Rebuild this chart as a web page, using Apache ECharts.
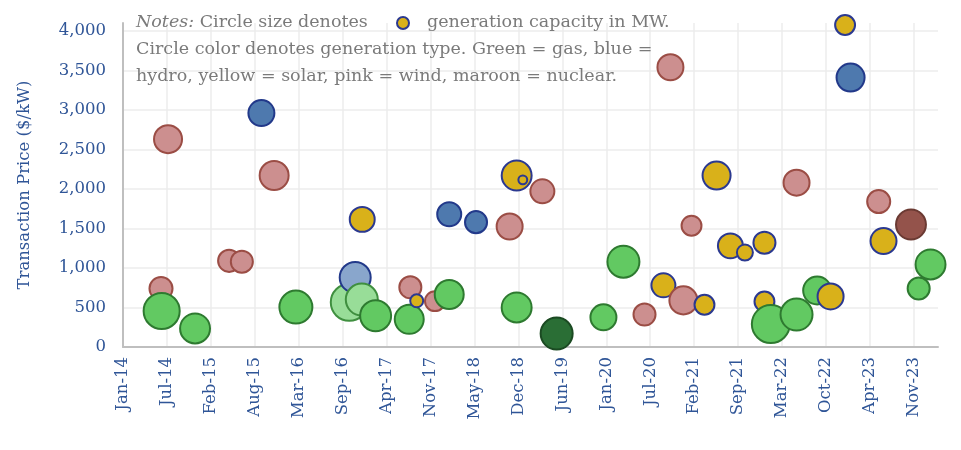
<!DOCTYPE html>
<html><head><meta charset="utf-8">
<script src="https://cdn.jsdelivr.net/npm/echarts@6/dist/echarts.min.js"></script>
<style>html,body{margin:0;padding:0;background:#fff}#c{width:961px;height:450px}</style>
</head><body><div id="c"></div>
<script>
// Transaction dates
const dates = ['2014-06-23','2014-06-26','2014-07-25','2014-11-25','2015-04-29','2015-06-26','2015-09-23','2015-11-20','2016-02-27','2016-10-27','2016-11-23','2016-12-23','2016-12-25','2017-02-24','2017-07-27','2017-08-01','2017-08-30','2017-11-21','2018-01-25','2018-01-25','2018-05-27','2018-10-27','2018-11-28','2018-11-28','2018-12-26','2019-03-25','2019-05-29','2019-12-28','2020-03-28','2020-07-02','2020-09-26','2020-10-28','2020-12-26','2021-02-01','2021-04-01','2021-05-26','2021-07-28','2021-10-02','2021-12-30','2021-12-30','2022-01-28','2022-05-25','2022-05-25','2022-08-27','2022-10-27','2023-01-01','2023-01-26','2023-06-03','2023-06-25','2023-10-28','2023-12-02','2024-01-25'];
// Transaction price ($/kW)
const prices = [740,455,2630,235,1090,1080,2960,2170,505,565,880,600,1615,395,350,755,585,580,1680,665,1580,1525,2170,500,2115,1970,170,375,1080,410,780,3540,590,1535,535,2170,1280,1195,1320,575,290,410,2080,715,640,4075,3410,1840,1340,1550,740,1045];
// Generation capacity (MW)
const capacities = [320,740,460,520,295,295,400,490,625,775,555,590,370,555,490,295,115,245,345,490,295,400,520,520,60,345,590,400,590,295,345,400,460,245,245,460,370,165,295,245,815,590,400,460,400,245,460,320,400,520,295,520];
// Generation type
const types = ['wind','gas','wind','gas','wind','wind','hydro','wind','gas','gasLight','hydroLight','gasLight','solar','gas','gas','wind','solar','wind','hydro','gas','hydro','wind','solar','gas','solar','wind','gasDark','gas','gas','wind','solar','wind','wind','wind','solar','solar','solar','solar','solar','solar','gas','gas','wind','gas','solar','solar','hydro','wind','solar','nuclear','gas','gas'];
const yTicks = [0,500,1000,1500,2000,2500,3000,3500,4000];

const styles = {
  gas:{color:'#62c962',borderColor:'#2e7a30'},
  gasLight:{color:'#98dd98',borderColor:'#3f8f3f'},
  gasDark:{color:'#2a6e35',borderColor:'#1b4a22'},
  hydro:{color:'#4e79ae',borderColor:'#22398a'},
  hydroLight:{color:'#89a6cc',borderColor:'#22398a'},
  solar:{color:'#d9b11a',borderColor:'#2b3990'},
  wind:{color:'#cc8f8f',borderColor:'#9b4d45'},
  nuclear:{color:'#94534b',borderColor:'#6b3a33'}
};
const base = Date.parse('2014-01-01');
const dayOf = d => (Date.parse(d) - base) / 86400000;
const months = ['Jan','Feb','Mar','Apr','May','Jun','Jul','Aug','Sep','Oct','Nov','Dec'];
const fmtDay = v => { const dt = new Date(base + v*86400000); return months[dt.getUTCMonth()] + '-' + String(dt.getUTCFullYear()).slice(2); };

const data = dates.map((d,i)=>({
  value:[dayOf(d), prices[i], capacities[i]],
  itemStyle:Object.assign({borderWidth:2,opacity:1}, styles[types[i]])
}));

const blue = '#2f5597';
const serif = '"DejaVu Serif", serif';
const noteFont = '17.5px ' + serif;
const grey = '#7a7a7a';
const chart = echarts.init(document.getElementById('c'));
chart.setOption({
  animation:false,
  grid:{left:123,right:23,top:23,bottom:103},
  xAxis:{type:'value',min:0,max:3710,interval:200,
    axisLine:{show:true,lineStyle:{color:'#bfbfbf',width:2}},
    axisTick:{show:false},
    axisLabel:{rotate:90,formatter:fmtDay,color:blue,fontFamily:serif,fontSize:16.5,margin:10,showMaxLabel:false},
    splitLine:{show:true,showMaxLine:false,lineStyle:{color:'#ececec',width:1.5}}
  },
  yAxis:{type:'value',min:0,max:4100,interval:500,
    name:'Transaction Price ($/kW)',nameLocation:'middle',nameGap:90,
    nameTextStyle:{color:blue,fontFamily:serif,fontSize:16.5},
    axisLine:{show:true,lineStyle:{color:'#bfbfbf',width:2}},
    axisTick:{show:false},
    axisLabel:{color:blue,fontFamily:serif,fontSize:16.5,margin:17,showMaxLabel:false,
      formatter:v=>yTicks.indexOf(v)>=0?v.toLocaleString('en-US'):''},
    splitLine:{show:true,showMaxLine:false,lineStyle:{color:'#ececec',width:1.5}}
  },
  graphic:[
    {type:'text',left:136,top:13,style:{rich:{i:{fontStyle:'italic',fontFamily:serif,fontSize:17.5,fill:grey}},text:'{i|Notes:} Circle size denotes',font:noteFont,fill:grey},z:10},
    {type:'circle',shape:{cx:403,cy:23,r:6},style:{fill:'#d9b11a',stroke:'#2b3990',lineWidth:2},z:10},
    {type:'text',left:427,top:13,style:{text:'generation capacity in MW.',font:noteFont,fill:grey},z:10},
    {type:'text',left:136,top:40,style:{text:'Circle color denotes generation type. Green = gas, blue =',font:noteFont,fill:grey},z:10},
    {type:'text',left:136,top:67,style:{text:'hydro, yellow = solar, pink = wind, maroon = nuclear.',font:noteFont,fill:grey},z:10}
  ],
  series:[{type:'scatter',data:data,clip:false,
    symbolSize:v=>1.4*Math.sqrt(v[2])-2}]
});
</script></body></html>
